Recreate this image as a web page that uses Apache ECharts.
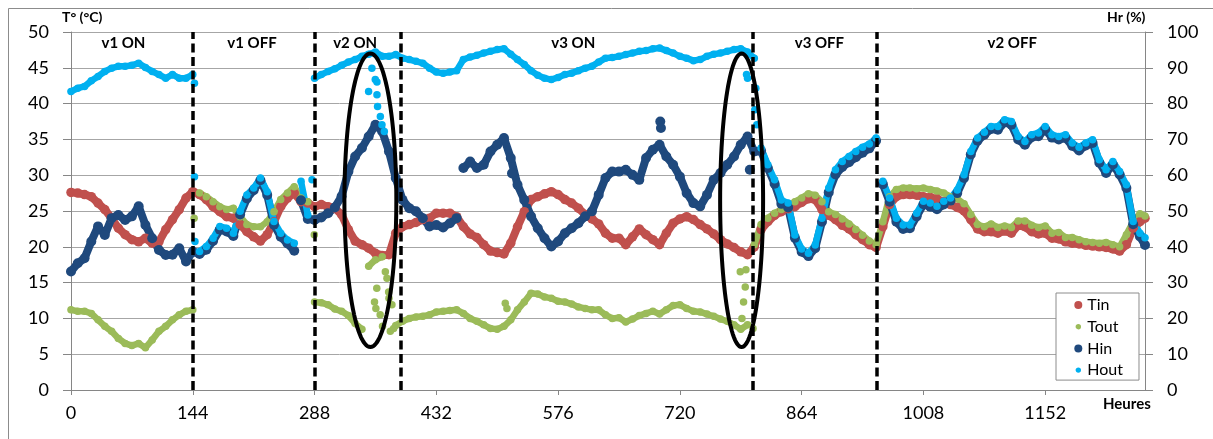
<!DOCTYPE html>
<html>
<head>
<meta charset="utf-8">
<script src="https://cdn.jsdelivr.net/npm/echarts@6/dist/echarts.min.js"></script>
<style>
  html, body { margin: 0; padding: 0; background: #fff; }
  #chart { width: 1213px; height: 439px; }
</style>
</head>
<body>
<div id="chart"></div>
<script>
// Logging interval of the four sensors, in hours
const STEP_H = 8;

// Indoor temperature (°C), one value every STEP_H hours from t = 0
const tin = [
  27.6, 27.5, 27.3, 27.0, 26.1, 25.2, 24.0, 22.6, 21.7, 21.0, 20.7, 21.2, 20.5, 20.7, 22.4, 23.8, 25.2, 26.8,
  27.7, 27.3, 26.6, 25.6, 24.9, 24.2, 24.0, 23.1, 22.1, 21.4, 20.8, 21.7, 23.5, 25.6, 26.8, 27.5, 26.3, 26.1,
  25.6, 25.9, 25.6, 25.4, 24.5, 22.4, 20.8, 20.3, 19.8, 19.1, 18.8, 18.9, 21.9, 22.8, 23.1, 23.4, 23.8, 24.0,
  24.7, 24.7, 24.7, 24.2, 22.8, 21.8, 21.3, 20.3, 19.4, 19.2, 19.0, 20.5, 22.8, 24.9, 26.6, 27.0, 27.4, 27.7,
  27.3, 26.6, 26.1, 25.4, 24.5, 23.9, 23.2, 21.9, 21.2, 21.2, 20.3, 21.4, 22.5, 21.7, 21.0, 20.3, 21.9, 23.3,
  23.9, 24.2, 23.8, 23.1, 22.5, 21.8, 21.0, 20.4, 19.9, 19.3, 18.9, 20.0, 22.4, 23.5, 24.4, 24.9, 25.3, 25.6,
  26.2, 26.7, 26.6, 25.2, 24.4, 23.8, 23.0, 22.5, 21.7, 21.0, 20.3, 19.9, 22.8, 25.9, 27.0, 27.3, 27.3, 27.2,
  27.0, 26.9, 26.7, 26.3, 25.9, 25.5, 25.0, 23.8, 22.5, 22.1, 22.1, 21.9, 22.2, 21.9, 23.0, 22.8, 22.1, 21.8,
  21.9, 21.2, 21.1, 20.7, 20.5, 20.4, 20.2, 20.1, 20.0, 19.9, 19.7, 19.4, 20.3, 22.6, 23.5
];

// Outdoor-side temperature (°C)
const tout = [
  11.2, 11.0, 11.0, 10.7, 9.8, 8.9, 8.2, 7.2, 6.5, 6.2, 6.5, 5.9, 7.0, 8.2, 8.9, 9.8, 10.5, 11.0,
  11.2, 27.5, 27.0, 26.3, 25.6, 25.2, 25.4, 24.2, 23.1, 22.8, 22.8, 23.5, 24.9, 26.6, 27.5, 28.4, 26.8, 26.3,
  12.3, 12.2, 11.9, 11.3, 11.0, 10.4, 9.3, 8.5, 17.3, 18.2, 18.6, 12.8, 9.0, 9.6, 10.0, 10.2, 10.3, 10.5,
  10.9, 11.0, 11.1, 11.2, 10.7, 10.0, 9.6, 9.1, 8.6, 8.5, 8.9, 9.8, 11.2, 12.3, 13.5, 13.4, 13.0, 12.8,
  12.4, 12.3, 12.0, 11.6, 11.4, 11.2, 11.2, 10.5, 10.0, 10.1, 9.5, 9.9, 10.4, 10.7, 11.0, 10.6, 11.2, 11.8,
  11.9, 11.4, 11.0, 10.9, 10.6, 10.3, 9.9, 9.6, 9.1, 8.5, 9.1, 20.3, 23.1, 24.0, 24.7, 25.2, 25.6, 26.3,
  26.8, 27.4, 27.2, 26.3, 24.9, 24.5, 23.9, 23.2, 22.4, 21.6, 20.8, 20.3, 23.5, 27.0, 28.0, 28.2, 28.2, 28.1,
  28.2, 28.0, 27.8, 27.5, 27.0, 26.7, 26.0, 24.5, 23.1, 22.8, 23.2, 22.7, 22.9, 22.7, 23.6, 23.6, 23.0, 22.7,
  22.9, 21.9, 22.0, 21.3, 21.3, 21.0, 20.7, 20.6, 20.5, 20.6, 20.3, 20.0, 21.7, 23.5, 24.6
];

// Indoor relative humidity (%)
const hin = [
  33.1, 35.4, 36.8, 41.5, 45.7, 43.3, 48.0, 48.9, 47.5, 48.5, 51.3, 46.1, 42.4, 39.1, 37.7, 37.8, 39.6, 35.9,
  38.7, 38.0, 39.2, 41.6, 44.8, 44.3, 43.0, 49.0, 53.5, 55.8, 58.6, 54.5, 46.2, 42.8, 40.9, 38.9, 53.0, 47.8,
  47.5, 48.2, 49.4, 51.0, 54.1, 61.0, 65.2, 67.6, 70.8, 74.1, 72.2, 66.6, 59.2, 53.1, 50.8, 49.9, 48.0, 45.7,
  46.1, 45.4, 46.6, 48.0, 62.0, 63.8, 62.0, 62.9, 66.6, 68.5, 70.4, 64.8, 57.3, 53.1, 48.5, 45.2, 42.4, 40.1,
  41.5, 43.8, 45.2, 46.6, 48.5, 49.9, 54.5, 59.2, 61.0, 61.0, 61.5, 60.1, 58.7, 64.8, 67.1, 68.5, 65.2, 62.9,
  59.6, 55.0, 52.2, 51.3, 54.5, 58.7, 60.6, 62.9, 65.2, 68.5, 70.8, 66.6, 66.8, 62.0, 57.6, 52.0, 51.0, 42.5,
  38.6, 37.4, 39.6, 47.0, 55.2, 60.2, 62.3, 63.6, 65.0, 66.3, 67.5, 69.6, 57.5, 52.6, 47.0, 45.0, 45.2, 48.5,
  51.9, 51.2, 50.5, 51.8, 52.9, 55.0, 59.2, 65.8, 69.6, 71.3, 72.9, 72.7, 74.8, 74.1, 70.0, 68.5, 70.6, 70.9,
  72.8, 70.5, 70.0, 70.4, 68.2, 66.9, 68.3, 69.0, 63.5, 60.6, 63.0, 60.2, 56.4, 46.3, 42.9
];

// Outdoor-side relative humidity (%)
const hout = [
  83.4, 84.3, 84.8, 86.4, 87.6, 89.0, 89.9, 90.4, 90.4, 90.7, 91.3, 90.1, 89.0, 88.1, 87.1, 88.1, 87.1, 87.1,
  88.1, 38.7, 40.1, 42.4, 45.7, 45.2, 43.8, 49.9, 54.5, 56.4, 59.2, 55.4, 47.1, 43.8, 41.9, 41.0, 58.3, 48.9,
  87.1, 88.1, 89.0, 89.7, 90.7, 91.6, 92.3, 93.2, 93.8, 94.4, 93.2, 93.2, 93.7, 92.7, 92.3, 91.8, 91.3, 89.9,
  88.8, 88.5, 88.8, 89.2, 92.3, 93.0, 93.5, 94.1, 94.6, 95.1, 95.3, 93.8, 92.3, 90.9, 89.2, 87.9, 87.1, 86.7,
  87.3, 88.1, 88.5, 89.2, 89.9, 90.4, 91.6, 92.7, 92.9, 93.2, 93.7, 94.1, 94.6, 94.8, 95.3, 95.5, 94.8, 94.1,
  93.2, 92.7, 92.0, 92.3, 93.2, 93.8, 94.1, 94.6, 95.1, 95.3, 94.4, 92.7, 67.6, 62.9, 58.7, 53.1, 52.2, 43.3,
  39.4, 38.2, 40.5, 48.0, 56.4, 61.5, 63.8, 65.2, 66.6, 67.8, 68.7, 70.4, 58.3, 53.6, 48.0, 46.1, 46.1, 49.4,
  52.7, 52.2, 51.3, 52.7, 53.6, 55.9, 60.1, 66.6, 70.4, 72.0, 73.6, 73.6, 75.5, 75.0, 70.8, 69.4, 71.3, 71.8,
  73.6, 71.3, 70.8, 71.3, 69.0, 67.8, 69.0, 69.9, 64.3, 61.5, 63.8, 61.0, 57.3, 47.1, 43.8
];

// Final reading of each sensor at the end of the log [hour, value]
const tinLast = [1270, 24.0];
const toutLast = [1270, 24.3];
const hinLast = [1270, 40.5];
const houtLast = [1270, 42.5];

// Scattered off-grid readings [hour, value] logged during the valve switch-overs
const toutExtra = [
  [145.6, 24.0], [287.7, 21.7], [358.9, 12.3], [360.5, 11.4], [361.6, 14.2], [365.6, 10.5],
  [368.4, 8.9], [371.7, 16.5], [373.6, 15.6], [375.6, 13.7], [377.6, 8.2], [379.5, 11.9],
  [381.5, 8.6], [513.5, 12.1], [515.5, 11.4], [791.4, 16.5], [793.4, 10.0], [795.3, 12.3],
  [797.3, 14.4], [798.1, 16.8], [806.5, 8.6]
];
const hinExtra = [[521.5, 60.5], [696.8, 75.0], [697.6, 73.2], [802.7, 61.5]];
const houtExtra = [
  [146.0, 85.7], [146.0, 59.6], [146.6, 41.5], [285.0, 58.7], [351.9, 83.4], [355.8, 89.9],
  [359.8, 86.7], [361.8, 86.0], [361.8, 82.5], [362.5, 79.2], [365.8, 76.4], [367.7, 74.1],
  [370.5, 72.2], [798.8, 88.1], [800.0, 87.1], [809.8, 84.3], [808.6, 78.3], [811.0, 74.1]
];

// Hours at which a trace jumps (sensor switched); the band is not joined across them
const tinJumps = [];
const toutJumps = [152, 288, 352, 376, 384, 808];
const hinJumps = [272, 464, 960];
const houtJumps = [152, 272, 288, 816, 960];

// Valve switch times (hours) and the phase names written between them
const switchHours = [144, 288, 390, 806, 953];
const phaseNames = ['v1 ON', 'v1 OFF', 'v2 ON', 'v3 ON', 'v3 OFF', 'v2 OFF'];
const phaseHours = [62, 214, 336, 594, 885, 1113];
const PHASE_LABEL_T = 48.5;

// Highlighted periods: [centre hour, centre °C, half-width h, half-height °C]
const highlights = [[354, 26.5, 30.7, 20.5], [793, 26.5, 25.4, 20.5]];

// Axes
const X_MAX = 1270, X_STEP = 144;
const T_MAX = 50, T_STEP = 5;
const H_MAX = 100, H_STEP = 10;

const FONT = 'Lato, "Open Sans", sans-serif';
const GRID = { left: 71, right: 68, top: 32, bottom: 49 };
const axisGray = '#868686';

// Regular samples as [hour, value], with an empty point before each jump
function trace(values, jumps, last) {
  const out = [];
  values.forEach((v, i) => {
    const h = i * STEP_H;
    if (jumps.includes(h)) out.push([h, '-']);
    out.push([h, v]);
  });
  out.push(last);
  return out;
}

function band(name, color, axis, values, jumps, last, dot, width) {
  return {
    name, type: 'line', yAxisIndex: axis, z: 2,
    data: trace(values, jumps, last),
    connectNulls: false,
    showSymbol: true, showAllSymbol: true,
    symbol: 'circle', symbolSize: dot,
    itemStyle: { color, opacity: 1 },
    lineStyle: { color, width, cap: 'round', join: 'round' },
    emphasis: { disabled: true }
  };
}

function dots(name, color, axis, points, dot) {
  return {
    name, type: 'scatter', yAxisIndex: axis, z: 2,
    data: points, symbolSize: dot,
    itemStyle: { color, opacity: 1 },
    emphasis: { disabled: true }
  };
}

const chart = echarts.init(document.getElementById('chart'), null, { renderer: 'canvas' });

chart.setOption({
  animation: false,
  backgroundColor: '#fff',
  textStyle: { fontFamily: FONT },
  grid: GRID,
  legend: {
    orient: 'vertical',
    left: 1056,
    top: 293,
    padding: [4, 16, 2, 17],
    itemGap: 5.7,
    itemWidth: 8,
    itemHeight: 8,
    icon: 'circle',
    backgroundColor: '#fff',
    borderColor: '#8c8c8c',
    borderWidth: 1,
    textStyle: { fontFamily: FONT, fontSize: 16, color: '#000', lineHeight: 16 },
    data: [
      { name: 'Tin' },
      { name: 'Tout', itemStyle: { borderColor: '#fff', borderWidth: 2.6 } },
      { name: 'Hin' },
      { name: 'Hout', itemStyle: { borderColor: '#fff', borderWidth: 2.6 } }
    ]
  },
  xAxis: {
    type: 'value',
    min: 0,
    max: X_MAX,
    interval: X_STEP,
    axisLine: { show: true, onZero: false, lineStyle: { color: axisGray, width: 1 } },
    axisTick: { show: true, length: 5, lineStyle: { color: axisGray } },
    axisLabel: {
      color: '#000', fontSize: 18, fontFamily: FONT, margin: 14, showMaxLabel: false,
      formatter: v => String(v)
    },
    splitLine: { show: false }
  },
  yAxis: [
    {
      type: 'value',
      min: 0,
      max: T_MAX,
      interval: T_STEP,
      axisLine: { show: true, lineStyle: { color: axisGray } },
      axisTick: { show: true, length: 8, lineStyle: { color: axisGray } },
      axisLabel: { color: '#000', fontSize: 18, fontFamily: FONT, margin: 22 },
      splitLine: { show: true, lineStyle: { color: '#a6a6a6', width: 1 } }
    },
    {
      type: 'value',
      min: 0,
      max: H_MAX,
      interval: H_STEP,
      position: 'right',
      axisLine: { show: true, lineStyle: { color: axisGray } },
      axisTick: { show: true, length: 8, lineStyle: { color: axisGray } },
      axisLabel: { color: '#000', fontSize: 18, fontFamily: FONT, margin: 22 },
      splitLine: { show: false }
    }
  ],
  graphic: [
    { type: 'polyline', silent: true, shape: { points: [[8.5, 440], [8.5, 8.5], [1214, 8.5]] },
      style: { stroke: '#8c8c8c', lineWidth: 1, fill: null } },
    { type: 'text', left: 62, top: 10, silent: true,
      style: { text: 'T° (°C)', font: 'bold 14px ' + FONT, fill: '#000' } },
    { type: 'text', left: 1107, top: 10, silent: true,
      style: { text: 'Hr (%)', font: 'bold 14px ' + FONT, fill: '#000' } },
    { type: 'text', left: 1103, top: 397, silent: true,
      style: { text: 'Heures', font: 'bold 15px ' + FONT, fill: '#000' } }
  ],
  series: [
    band('Tin', '#C0504D', 0, tin, tinJumps, tinLast, 9.5, 8),
    band('Tout', '#9BBB59', 0, tout, toutJumps, toutLast, 7.5, 6.5),
    dots('Tout', '#9BBB59', 0, toutExtra, 7.5),
    band('Hin', '#1F497D', 1, hin, hinJumps, hinLast, 10, 8),
    dots('Hin', '#1F497D', 1, hinExtra, 10),
    band('Hout', '#00B0F0', 1, hout, houtJumps, houtLast, 7.5, 6.5),
    dots('Hout', '#00B0F0', 1, houtExtra, 7.5),
    {
      // switch-over markers and highlighted periods
      name: 'annotations', type: 'custom', yAxisIndex: 0, silent: true, z: 5,
      encode: { x: 0, y: 1 },
      data: highlights,
      renderItem: (params, api) => {
        const cx = api.value(0), cy = api.value(1);
        const c = api.coord([cx, cy]);
        const e = api.coord([cx + api.value(2), cy + api.value(3)]);
        const a = e[0] - c[0], b = c[1] - e[1];
        const pts = [];
        for (let k = 0; k < 120; k++) {
          const t = (k / 120) * Math.PI * 2;
          pts.push([c[0] + a * Math.cos(t), c[1] + b * Math.sin(t)]);
        }
        return {
          type: 'polygon',
          shape: { points: pts },
          style: { fill: null, stroke: '#000', lineWidth: 4 }
        };
      },
      markLine: {
        silent: true,
        symbol: ['none', 'none'],
        label: { show: false },
        lineStyle: { color: '#000', width: 3.5, type: [9, 4.5], opacity: 1 },
        emphasis: { disabled: true },
        data: switchHours.map(h => ({ xAxis: h }))
      }
    },
    {
      name: 'phases', type: 'custom', yAxisIndex: 0, silent: true, z: 6,
      encode: { x: 0, y: 1 },
      data: phaseHours.map(h => [h, PHASE_LABEL_T]),
      renderItem: (params, api) => {
        const p = api.coord([api.value(0), api.value(1)]);
        return {
          type: 'text',
          x: p[0], y: p[1],
          style: {
            text: phaseNames[params.dataIndex],
            font: 'bold 15px ' + FONT,
            fill: '#000',
            align: 'center',
            verticalAlign: 'middle'
          }
        };
      }
    }
  ]
});
</script>
</body>
</html>
